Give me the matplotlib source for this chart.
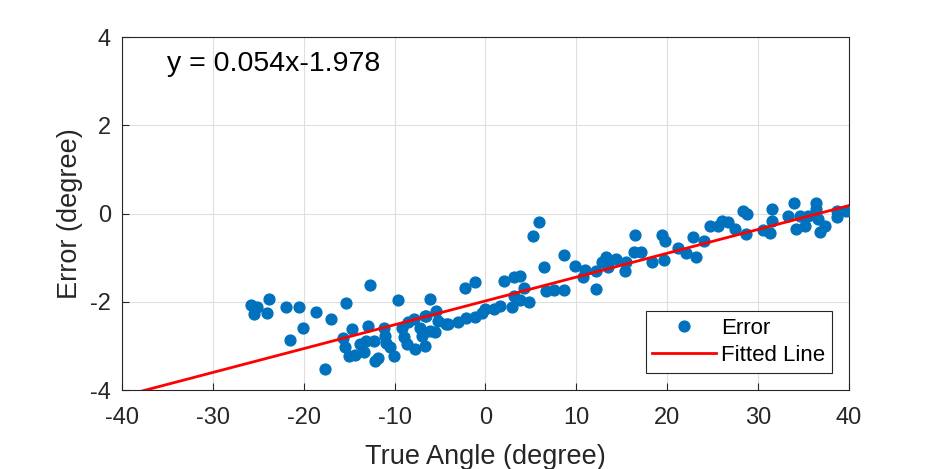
import matplotlib
matplotlib.use("Agg")
import matplotlib.pyplot as plt
import numpy as np

plt.rcParams['font.family'] = ['Liberation Sans', 'DejaVu Sans']
plt.rcParams['axes.unicode_minus'] = False

true_angle = [-25.8, -25.1, -25.5, -23.8, -24.0, -22.0, -20.5, -18.6, -17.0, -20.1, -21.5, -17.6,
              -12.7, -15.3, -9.6, -6.1, -2.3, -1.2, -14.7, -15.7, -15.5, -15.0, -14.4, -13.8,
              -13.4, -12.9, -13.1, -12.3, -12.2, -11.8, -11.2, -11.1, -10.9, -10.5, -10.1, -9.2,
              -9.0, -8.6, -7.9, -7.8, -8.5, -7.2, -7.0, -6.7, -6.5, -6.1, -5.6, -5.4, -5.2, -4.3,
              -3.0, -2.1, -1.2, -0.4, -0.1, -6.7, -4.1, 0.9, 1.6, 2.9, 2.1, 3.2, 3.8, 4.3, 3.1,
              3.8, 4.8, 5.2, 5.9, 6.5, 6.7, 7.6, 8.7, 8.7, 9.9, 10.7, 11.0, 12.2, 12.2, 12.8,
              13.3, 13.5, 14.4, 15.4, 15.5, 16.3, 16.5, 17.1, 18.3, 19.4, 19.8, 19.6, 21.2,
              22.1, 22.8, 23.2, 24.0, 24.7, 25.6, 26.0, 26.7, 27.5, 28.4, 28.8, 28.7, 30.6,
              31.3, 31.5, 31.5, 33.3, 34.0, 34.2, 34.6, 35.2, 35.5, 36.4, 36.4, 36.6, 36.8,
              37.4, 38.7, 38.7, 39.7]
error = [-2.07, -2.11, -2.27, -1.93, -2.25, -2.12, -2.12, -2.23, -2.39, -2.60, -2.86, -3.53,
         -1.61, -2.02, -1.96, -1.93, -1.69, -1.56, -2.62, -2.82, -3.02, -3.22, -3.20, -2.95,
         -3.14, -2.54, -2.88, -2.88, -3.33, -3.26, -2.58, -2.77, -2.92, -3.03, -3.22, -2.58,
         -2.80, -2.95, -2.39, -3.07, -2.46, -2.58, -2.77, -2.99, -2.31, -2.65, -2.69, -2.20,
         -2.43, -2.49, -2.46, -2.37, -2.34, -2.24, -2.16, -2.31, -2.50, -2.16, -2.09, -2.12,
         -1.52, -1.44, -1.41, -1.69, -1.86, -1.95, -2.01, -0.50, -0.20, -1.20, -1.76, -1.73,
         -1.73, -0.94, -1.19, -1.44, -1.27, -1.71, -1.29, -1.10, -0.99, -1.22, -1.03, -1.29,
         -1.10, -0.88, -0.48, -0.88, -1.10, -0.48, -0.61, -1.05, -0.78, -0.90, -0.54, -0.98,
         -0.61, -0.27, -0.29, -0.16, -0.18, -0.35, 0.07, -0.01, -0.46, -0.37, -0.45, 0.11,
         -0.16, -0.05, 0.23, -0.35, -0.05, -0.27, -0.05, 0.23, 0.11, -0.12, -0.42, -0.29,
         0.07, -0.08, 0.07]

slope = 0.054
intercept = -1.978

fig = plt.figure(figsize=(9.38, 4.69), dpi=100)
ax = fig.add_axes([0.130, 0.168, 0.775, 0.753])

ax.plot(true_angle, error, 'o', color='#0072BD', markersize=7.8, label='Error', zorder=3)
xl = np.array([-40, 40])
ax.plot(xl, slope * xl + intercept, '-', color='#FF0000', linewidth=2, label='Fitted Line', zorder=4)

ax.set_xlim(-40, 40)
ax.set_ylim(-4, 4)
ax.set_xticks(np.arange(-40, 41, 10))
ax.set_yticks(np.arange(-4, 5, 2))
ax.grid(True, color='#DFDFDF', linewidth=0.8)
ax.set_axisbelow(True)
ax.tick_params(direction='in', labelsize=17, length=5, color='#262626', labelcolor='#262626')
ax.tick_params(axis='x', pad=12)
ax.tick_params(axis='y', pad=8)
for s in ax.spines.values():
    s.set_color('#262626')
    s.set_linewidth(0.8)
ax.set_xlabel('True Angle (degree)', fontsize=19.5, color='#262626', labelpad=11)
ax.set_ylabel('Error (degree)', fontsize=19.5, color='#262626', labelpad=5)

ax.text(-35.05, 3.40, 'y = 0.054x-1.978', fontsize=20.5, color='black', va='center')

leg = ax.legend(loc='lower right', bbox_to_anchor=(0.977, 0.049), fontsize=16, frameon=True,
                fancybox=False, edgecolor='#262626', borderaxespad=0, handlelength=2.84,
                handletextpad=0.26, borderpad=0.3, labelspacing=0.3, framealpha=1)
leg.get_frame().set_linewidth(0.8)

fig.savefig('out.png', dpi=100)
